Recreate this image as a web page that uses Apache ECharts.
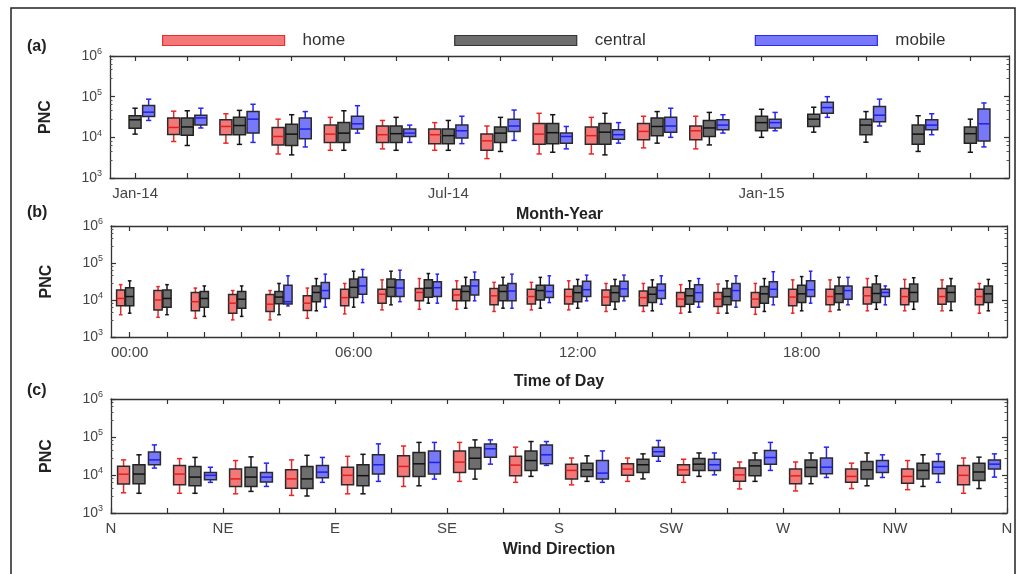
<!DOCTYPE html>
<html>
<head>
<meta charset="utf-8">
<title>PNC boxplots</title>
<script src="https://cdn.jsdelivr.net/npm/echarts@6/dist/echarts.min.js"></script>
<style>
  html, body { margin: 0; padding: 0; background: #fff; }
  #chart { width: 1021px; height: 574px; }
</style>
</head>
<body>
<div id="chart"></div>
<script>
// ---- data: [min, q1, median, q3, max], null = no box ----
const monthLabels = ['Jan-14', 'Feb-14', 'Mar-14', 'Apr-14', 'May-14', 'Jun-14', 'Jul-14', 'Aug-14', 'Sep-14',
  'Oct-14', 'Nov-14', 'Dec-14', 'Jan-15', 'Feb-15', 'Mar-15', 'Apr-15', 'May-15']
const monthShown = [0, 6, 12]

const monthHome = [
  null,
  [7900, 11700, 17500, 30000, 44000],
  [7200, 11600, 18500, 27000, 38000],
  [3900, 6500, 10500, 17500, 28000],
  [4800, 7500, 12000, 20000, 31000],
  [5200, 7500, 11600, 19000, 26000],
  [4800, 7000, 11600, 16000, 23000],
  [3000, 4800, 8200, 12000, 19000],
  [3900, 6800, 12000, 22000, 39000],
  [3900, 6800, 11000, 18000, 31000],
  [5500, 8700, 14000, 22000, 33000],
  [5200, 8700, 14500, 19000, 33000],
  null, null, null, null, null
]
const monthCentral = [
  [12000, 16800, 27000, 33800, 52000],
  [6300, 11300, 18000, 30000, 45000],
  [6700, 11600, 19500, 31000, 46000],
  [3700, 6300, 12000, 21000, 36000],
  [4800, 7500, 12700, 23000, 45000],
  [4800, 7500, 12300, 19000, 31000],
  [4800, 7000, 11000, 16000, 26000],
  [4500, 7500, 12700, 18000, 31000],
  [4300, 7000, 13000, 22000, 36000],
  [3700, 6800, 13400, 22000, 39000],
  [7200, 11000, 18500, 30000, 43000],
  [6500, 10500, 17000, 26000, 41000],
  [10000, 14500, 23000, 33000, 49000],
  [13400, 18500, 28000, 37000, 55000],
  [7600, 11600, 20000, 28000, 43000],
  [4500, 6800, 12000, 20000, 34000],
  [4300, 7200, 12300, 18000, 28000]
]
const monthMobile = [
  [26000, 32600, 41600, 60700, 86700],
  [17000, 20000, 30000, 35000, 52000],
  [7500, 12700, 28000, 43000, 65000],
  [5800, 9200, 16000, 30000, 43000],
  [12700, 16000, 21500, 33000, 60000],
  [7500, 10500, 12700, 16000, 20000],
  [7000, 9600, 14500, 20000, 33000],
  [8400, 14000, 19000, 28000, 47000],
  [5200, 7200, 10500, 12700, 18500],
  [7200, 9000, 11600, 15300, 23000],
  [10000, 13400, 19000, 31000, 52000],
  [12700, 15300, 20000, 27000, 36000],
  [14500, 17000, 23000, 28000, 41000],
  [31000, 39000, 54000, 73000, 100000],
  [19000, 24000, 35000, 57000, 87000],
  [11600, 15300, 20000, 27000, 38000],
  [5800, 8100, 21500, 50000, 70000]
]

const hourLabels = ['00:00', '01:00', '02:00', '03:00', '04:00', '05:00', '06:00', '07:00', '08:00', '09:00',
  '10:00', '11:00', '12:00', '13:00', '14:00', '15:00', '16:00', '17:00', '18:00', '19:00', '20:00', '21:00',
  '22:00', '23:00']
const hourShown = [0, 6, 12, 18]

const hourHome = [
  [4000, 7000, 11000, 18700, 26000],
  [3400, 5400, 10000, 18000, 23000],
  [3200, 5100, 9000, 16000, 21000],
  [2900, 4400, 8200, 14000, 18000],
  [2900, 4900, 7700, 14000, 18000],
  [3200, 5200, 8200, 13000, 21000],
  [4200, 7000, 11600, 19500, 28000],
  [5400, 8200, 14300, 19500, 35000],
  [5600, 9600, 16000, 20500, 38000],
  [5600, 9500, 13700, 19500, 33000],
  [4900, 7400, 13000, 20500, 30000],
  [5400, 7800, 12400, 19500, 30000],
  [5400, 7800, 12400, 19500, 33000],
  [4900, 7200, 12000, 18700, 28000],
  [4900, 7000, 11600, 17600, 28000],
  [4400, 6700, 10600, 16000, 26000],
  [4400, 6700, 10600, 16000, 27000],
  [4100, 6400, 10600, 16000, 28000],
  [4400, 7000, 12000, 19500, 35000],
  [4900, 7400, 12400, 19500, 35000],
  [5100, 7800, 13000, 22000, 38000],
  [5100, 7400, 12400, 20500, 36000],
  [5100, 7700, 12400, 20500, 35000],
  [4400, 7400, 12400, 19500, 28000]
]
const hourCentral = [
  [4400, 7000, 12400, 21500, 33000],
  [4000, 6400, 11000, 18700, 26000],
  [3600, 6400, 11000, 17000, 24000],
  [3600, 6000, 10500, 17000, 24000],
  [4000, 7900, 12000, 17000, 28000],
  [5100, 9000, 16000, 24000, 38000],
  [6400, 11600, 22000, 37000, 60000],
  [7400, 12400, 22000, 37000, 60000],
  [8200, 11800, 21000, 35000, 52000],
  [6000, 9500, 17000, 24000, 41000],
  [6000, 9500, 17000, 25000, 41000],
  [6000, 10000, 18000, 25000, 41000],
  [6000, 9000, 15800, 24000, 36000],
  [5600, 9000, 15800, 24000, 36000],
  [5100, 8500, 14300, 22000, 35000],
  [4700, 7700, 13000, 20000, 33000],
  [4400, 7400, 12400, 20500, 33000],
  [4900, 8200, 14700, 23000, 38000],
  [5100, 8500, 14700, 25000, 43000],
  [5400, 8500, 14700, 24000, 41000],
  [5600, 8500, 15000, 27000, 45000],
  [5600, 9000, 16000, 27000, 40000],
  [5200, 9000, 16000, 24000, 38000],
  [5100, 8500, 14700, 24000, 36000]
]
const hourMobile = [
  null, null, null, null,
  [6900, 7800, 9000, 25000, 45000],
  [6400, 11000, 18000, 29500, 50000],
  [8500, 14300, 24000, 41000, 67000],
  [9000, 12400, 21000, 35000, 64000],
  [8200, 12400, 21500, 31000, 50000],
  [9500, 13700, 24000, 35000, 57000],
  [6000, 9500, 17500, 28000, 50000],
  [8500, 11700, 17000, 25000, 45000],
  [9500, 12400, 19000, 32000, 47000],
  [9500, 12400, 20000, 32000, 47000],
  [7700, 11000, 18000, 27000, 45000],
  [6400, 9000, 15800, 26000, 38000],
  [6400, 9500, 18000, 28000, 45000],
  [7400, 12000, 19500, 31000, 58000],
  [8200, 12400, 19000, 33000, 60000],
  [7400, 10500, 18000, 24000, 41000],
  [7400, 12400, 16000, 19500, 24000],
  null, null, null
]

// 16 sectors of 22.5 degrees, labels every 45 degrees
const windSectors = ['N', 'NNE', 'NE', 'ENE', 'E', 'ESE', 'SE', 'SSE', 'S', 'SSW', 'SW', 'WSW', 'W', 'WNW', 'NW', 'NNW']
const windTickLabels = ['N', 'NE', 'E', 'SE', 'S', 'SW', 'W', 'NW', 'N']

const windHome = [
  [3400, 5800, 10500, 17000, 25000],
  [3300, 5500, 10600, 17800, 27000],
  [3200, 5000, 7900, 14300, 24000],
  [2900, 4500, 7900, 13700, 25000],
  [3200, 5500, 9800, 16100, 31000],
  [5000, 9200, 16800, 32000, 58000],
  [6800, 11700, 21800, 43000, 72000],
  [6400, 9500, 18200, 31000, 54000],
  [5500, 7900, 13200, 19300, 28000],
  [6800, 9800, 14300, 19700, 28000],
  [6400, 9800, 13700, 18600, 26000],
  [4300, 6800, 10100, 15200, 22000],
  [3800, 5900, 9500, 14300, 22000],
  [4400, 6400, 9200, 14300, 20500],
  [4100, 6100, 9200, 14300, 24000],
  [3300, 5500, 9800, 17800, 28000]
]
const windCentral = [
  [3300, 5900, 10600, 18600, 34000],
  [3300, 5200, 8800, 16800, 29000],
  [3700, 5000, 8800, 16100, 30000],
  [2800, 4400, 7900, 16800, 33000],
  [3200, 5200, 9600, 18600, 35000],
  [5200, 9200, 19700, 39000, 72000],
  [7800, 14300, 27600, 53000, 84000],
  [9200, 13200, 24000, 43000, 76000],
  [6800, 9200, 13700, 20500, 32000],
  [7900, 11700, 18600, 26000, 36000],
  [9200, 13200, 19300, 27000, 38000],
  [6800, 9500, 17400, 25000, 38000],
  [5900, 9200, 15800, 25000, 38000],
  [5200, 7900, 13700, 22600, 38000],
  [5000, 7900, 13200, 20500, 34000],
  [4400, 7200, 12000, 20500, 29500]
]
const windMobile = [
  [15200, 18600, 25000, 40000, 62000],
  [6400, 7500, 9800, 11700, 16000],
  [5000, 6500, 8800, 11700, 20500],
  [6400, 8500, 11900, 17800, 29000],
  [6800, 10600, 18600, 34000, 66000],
  [7800, 10600, 21400, 43000, 72000],
  [19300, 29500, 49000, 65000, 84000],
  [17900, 19700, 34000, 62000, 76000],
  [6400, 7800, 11200, 24000, 43000],
  [23000, 31000, 41000, 54000, 81000],
  [10100, 13200, 18600, 26000, 38000],
  [13200, 19300, 28800, 44000, 72000],
  [8600, 10800, 16100, 28000, 54000],
  [8600, 11700, 16800, 24000, 34000],
  [6400, 10800, 16100, 22600, 36000],
  [8800, 14300, 19300, 25000, 36000]
]

// ---- styles ----
const FONT = '"Liberation Sans", Arial, sans-serif'
const groups = [
  { name: 'home', fill: '#F57878', edge: '#2a2a2a', whisker: '#E62828', median: '#E02020', legendEdge: '#E53030' },
  { name: 'central', fill: '#6E6E6E', edge: '#222222', whisker: '#151515', median: '#111111', legendEdge: '#333333' },
  { name: 'mobile', fill: '#7878FA', edge: '#2a2a2a', whisker: '#2626EE', median: '#2020E0', legendEdge: '#2a2aEE' }
]

const chart = echarts.init(document.getElementById('chart'))

function toRows(values, xOf) {
  const rows = []
  values.forEach((v, i) => {
    if (v) rows.push([xOf(i)].concat(v))
  })
  return rows
}

function boxRender(shift, width, st) {
  return function (params, api) {
    const x = api.value(0) + shift
    const q1 = api.coord([x - width / 2, api.value(2)])
    const q3 = api.coord([x + width / 2, api.value(4)])
    const lo = api.coord([x, api.value(1)])
    const med = api.coord([x, api.value(3)])
    const hi = api.coord([x, api.value(5)])
    const cx = lo[0]
    const cap = (q3[0] - q1[0]) * 0.22
    const wStyle = { stroke: st.whisker, lineWidth: 1.5 }
    return {
      type: 'group',
      children: [
        { type: 'line', shape: { x1: cx, y1: q1[1], x2: cx, y2: lo[1] }, style: wStyle },
        { type: 'line', shape: { x1: cx, y1: q3[1], x2: cx, y2: hi[1] }, style: wStyle },
        { type: 'line', shape: { x1: cx - cap, y1: lo[1], x2: cx + cap, y2: lo[1] }, style: wStyle },
        { type: 'line', shape: { x1: cx - cap, y1: hi[1], x2: cx + cap, y2: hi[1] }, style: wStyle },
        {
          type: 'rect',
          shape: { x: q1[0], y: q3[1], width: q3[0] - q1[0], height: q1[1] - q3[1] },
          style: { fill: st.fill, stroke: st.edge, lineWidth: 1.5 }
        },
        { type: 'line', shape: { x1: q1[0], y1: med[1], x2: q3[0], y2: med[1] }, style: { stroke: st.median, lineWidth: 1.5 } }
      ]
    }
  }
}

// panel layouts
const panels = [
  {
    grid: { left: 110, right: 12, top: 56, height: 122 },
    min: -0.48, max: 16.74, shift: 0.26, width: 0.23,
    ticks: monthLabels.map((d, i) => i),
    labels: monthShown,
    fmt: v => monthLabels[v],
    title: 'Month-Year', nameGap: 29,
    sets: [monthHome, monthCentral, monthMobile],
    xOf: i => i
  },
  {
    grid: { left: 111, right: 14, top: 226, height: 111 },
    min: -0.5, max: 23.5, shift: 0.24, width: 0.22,
    ticks: hourLabels.map((d, i) => i),
    labels: hourShown,
    fmt: v => hourLabels[v],
    title: 'Time of Day', nameGap: 37,
    sets: [hourHome, hourCentral, hourMobile],
    xOf: i => i
  },
  {
    grid: { left: 111, right: 14, top: 399, height: 114 },
    min: 0, max: 360, shift: 6.2, width: 4.8,
    ticks: windSectors.map((d, i) => i * 22.5).concat([360]),
    labels: windTickLabels.map((d, i) => i * 45),
    fmt: v => windTickLabels[Math.round(v / 45)],
    title: 'Wind Direction', nameGap: 29,
    sets: [windHome, windCentral, windMobile],
    xOf: i => i * 22.5 + 11.25
  }
]

const axisLine = { show: true, onZero: false, lineStyle: { color: '#333', width: 1.3 } }
const grids = []
const xAxes = []
const yAxes = []
const series = []

panels.forEach((p, pi) => {
  grids.push(p.grid)
  xAxes.push({
    type: 'value', gridIndex: pi, min: p.min, max: p.max,
    axisLine: axisLine,
    axisTick: { show: true, inside: true, length: 5, customValues: p.ticks, lineStyle: { color: '#333', width: 1.2 } },
    axisLabel: {
      customValues: p.labels, formatter: p.fmt, margin: 8,
      fontSize: 15, color: '#444', fontFamily: FONT, showMinLabel: true, showMaxLabel: true
    },
    splitLine: { show: false },
    name: p.title, nameLocation: 'middle', nameGap: p.nameGap,
    nameTextStyle: { fontSize: 16, fontWeight: 'bold', color: '#222', fontFamily: FONT }
  })
  xAxes.push({
    type: 'value', gridIndex: pi, position: 'top', min: p.min, max: p.max,
    axisLine: axisLine,
    axisTick: { show: true, inside: true, length: 5, customValues: p.ticks, lineStyle: { color: '#333', width: 1.2 } },
    axisLabel: { show: false },
    splitLine: { show: false }
  })
  const yBase = {
    type: 'log', logBase: 10, gridIndex: pi, min: 1000, max: 1000000,
    axisLine: axisLine,
    axisTick: { show: true, inside: true, length: 5, lineStyle: { color: '#333', width: 1.2 } },
    minorTick: { show: true, splitNumber: 5, length: 2.5, lineStyle: { color: '#555', width: 1 } },
    splitLine: { show: false }
  }
  yAxes.push(Object.assign({}, yBase, {
    position: 'left',
    axisLabel: {
      margin: 8,
      formatter: v => '{b|10}{s|' + Math.round(Math.log10(v)) + '}',
      rich: {
        b: { fontSize: 14, color: '#444', fontFamily: FONT },
        s: { fontSize: 9, color: '#444', fontFamily: FONT, padding: [0, 0, 8, 0] }
      }
    },
    name: 'PNC', nameLocation: 'middle', nameGap: 56,
    nameTextStyle: { fontSize: 16, fontWeight: 'bold', color: '#222', fontFamily: FONT }
  }))
  yAxes.push(Object.assign({}, yBase, { position: 'right', axisLabel: { show: false } }))

  groups.forEach((g, gi) => {
    series.push({
      type: 'custom',
      name: g.name,
      xAxisIndex: pi * 2,
      yAxisIndex: pi * 2,
      itemStyle: { color: g.fill },
      encode: { x: 0, y: [1, 2, 3, 4, 5] },
      renderItem: boxRender((gi - 1) * p.shift, p.width, g),
      data: toRows(p.sets[gi], p.xOf),
      silent: true
    })
  })
})

const option = {
  animation: false,
  textStyle: { fontFamily: FONT },
  legend: {
    top: 27, left: 157,
    itemWidth: 122, itemHeight: 10, itemGap: 109,
    textStyle: { fontSize: 17, color: '#333', fontFamily: FONT, padding: [0, 0, 0, 13] },
    data: groups.map(g => ({
      name: g.name, icon: 'rect',
      itemStyle: { color: g.fill, borderColor: g.legendEdge, borderWidth: 1.2 }
    }))
  },
  grid: grids,
  xAxis: xAxes,
  yAxis: yAxes,
  series: series,
  graphic: [
    {
      type: 'rect', silent: true, z: 100,
      shape: { x: 11, y: 8, width: 1004, height: 600 },
      style: { fill: 'none', stroke: '#222', lineWidth: 1.5 }
    },
    { type: 'text', left: 27, top: 39, style: { text: '(a)', font: 'bold 16px ' + FONT, fill: '#222' } },
    { type: 'text', left: 27, top: 205, style: { text: '(b)', font: 'bold 16px ' + FONT, fill: '#222' } },
    { type: 'text', left: 27, top: 383, style: { text: '(c)', font: 'bold 16px ' + FONT, fill: '#222' } }
  ]
}

chart.setOption(option)
</script>
</body>
</html>
